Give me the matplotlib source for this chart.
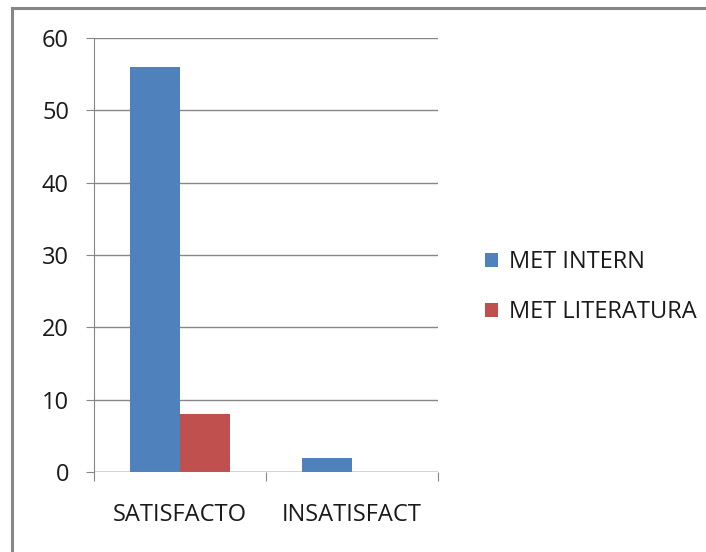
import numpy as np
import matplotlib.pyplot as plt

categories = ['SATISFACTO', 'INSATISFACT']
met_intern = [56, 2]
met_literatura = [8, 0]
series_names = ['MET INTERN', 'MET LITERATURA']
yticks = [0, 10, 20, 30, 40, 50, 60]

plt.rcParams['font.family'] = ['Open Sans', 'DejaVu Sans']

W, H = 706, 552
fig = plt.figure(figsize=(W / 100, H / 100), dpi=100)

# outer chart frame (only left and top edges visible in the crop)
fig.add_artist(plt.Line2D([12 / W, 12 / W], [0, 1 - 8 / H], color='#868686', lw=2.2,
                          transform=fig.transFigure))
fig.add_artist(plt.Line2D([12 / W, 1], [1 - 8 / H, 1 - 8 / H], color='#868686', lw=2.2,
                          transform=fig.transFigure))

ax = fig.add_axes([94 / W, 1 - 472 / H, (438 - 94) / W, (472 - 38) / H])

x = np.arange(len(categories))
w = 0.29
ax.bar(x - w / 2, met_intern, w, color='#4f81bd', label=series_names[0], zorder=3)
ax.bar(x + w / 2, met_literatura, w, color='#c0504d', label=series_names[1], zorder=3)

ax.set_xlim(-0.5, 1.5)
ax.set_ylim(0, 60)
ax.set_yticks(yticks)
ax.yaxis.grid(True, color='#868686', lw=1)
ax.set_axisbelow(True)

for s in ['top', 'right', 'bottom']:
    ax.spines[s].set_visible(False)
ax.spines['left'].set_color('#868686')
ax.axhline(0, color='#868686', lw=1, zorder=4)

fs = 17
ax.set_xticks([-0.5, 0.5, 1.5])
ax.set_xticklabels([])
ax.set_xticks(x, minor=True)
ax.set_xticklabels(categories, minor=True, fontsize=fs, color='#1a1a1a')
ax.tick_params(axis='x', which='major', length=6.5, color='#868686', direction='out')
ax.tick_params(axis='x', which='minor', length=0, pad=22)
ax.tick_params(axis='y', length=6, color='#868686', labelsize=fs, labelcolor='#1a1a1a', pad=12)

leg = ax.legend(loc='center left', bbox_to_anchor=(1.11, 0.426), frameon=False,
                fontsize=fs, handlelength=0.55, handleheight=0.55, handletextpad=0.45,
                labelspacing=1.1, borderaxespad=0)
for t in leg.get_texts():
    t.set_color('#1a1a1a')

fig.savefig('out.png', dpi=100)
